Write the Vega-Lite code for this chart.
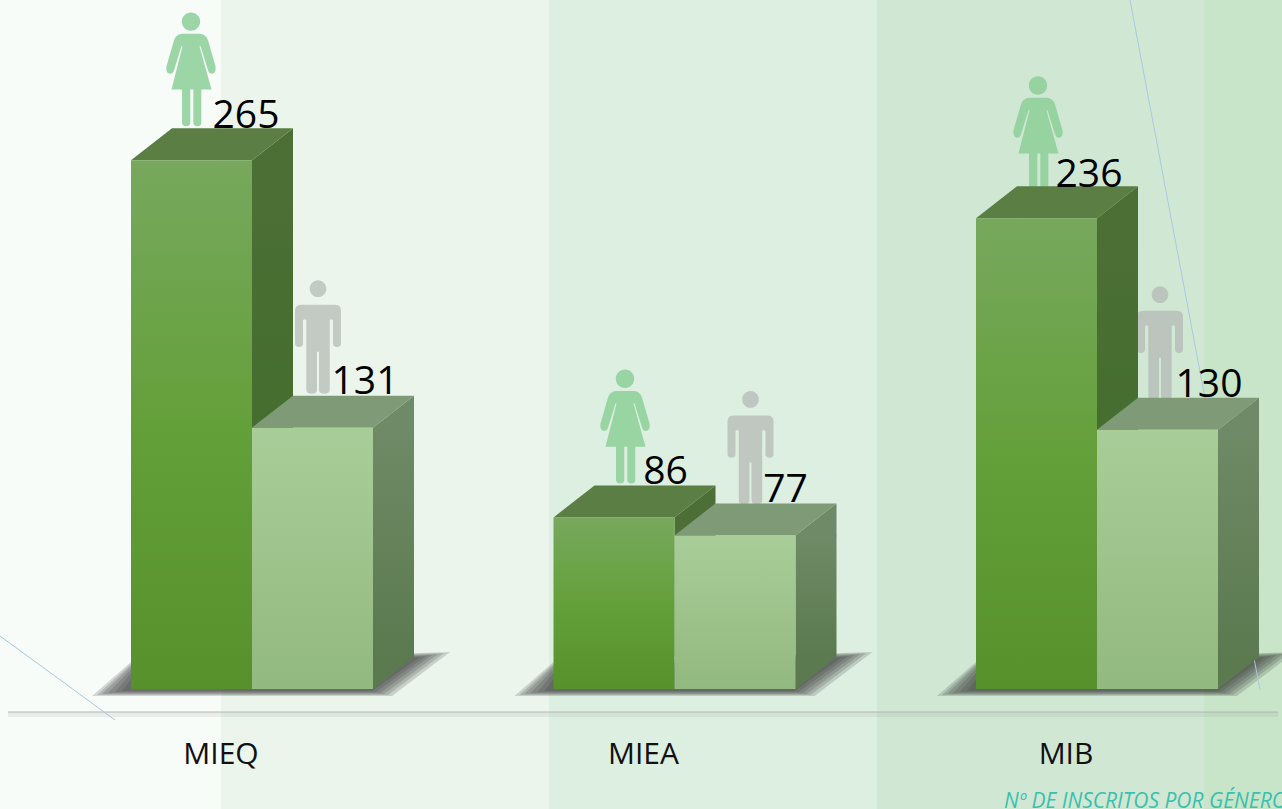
{
"$schema":"https://vega.github.io/schema/vega-lite/v6.json",
"width":1282,"height":809,"autosize":{"type":"none"},"padding":0,"background":"#ffffff",
"data":{"values":[
{"program":"MIEQ","gender":"F","value":265},
{"program":"MIEQ","gender":"M","value":131},
{"program":"MIEA","gender":"F","value":86},
{"program":"MIEA","gender":"M","value":77},
{"program":"MIB","gender":"F","value":236},
{"program":"MIB","gender":"M","value":130}
]},
"config":{
"font":"Open Sans",
"view":{"stroke":null},
"style":{
"iconF":{"shape":"M-9.2,-104.7 a9.2,9.2 0 1 0 18.4,0 a9.2,9.2 0 1 0 -18.4,0 Z M-9,-92.5 L9,-92.5 Q15,-92 17,-86 L24.5,-60 Q25.5,-53 21,-52.5 Q18,-52.5 17,-56 L9.5,-80 L8.5,-80 L20.5,-36.7 L10.3,-36.7 L10.3,-4 Q10.3,0 6.3,0 Q2.3,0 2.3,-4 L2.3,-36.7 L-0.7,-36.7 L-0.7,-4 Q-0.7,0 -4.8,0 Q-9,0 -9,-4 L-9,-36.7 L-19.5,-36.7 L-8.5,-80 L-9.5,-80 L-17,-56 Q-18,-52.5 -21,-52.5 Q-25.5,-53 -24.5,-60 L-17,-86 Q-15,-92 -9,-92.5 Z","size":4,"filled":true,"color":"#8dcf98","opacity":0.85},
"iconM":{"shape":"M-8.3,-105 a8.3,8.3 0 1 0 16.6,0 a8.3,8.3 0 1 0 -16.6,0 Z M-17,-89 L17,-89 Q23,-89 23,-83 L23,-50.5 Q23,-46.7 19,-46.7 Q15,-46.7 15,-50.5 L15,-73 Q15,-74.5 13.5,-74.5 Q11.7,-74.5 11.7,-73 L11.7,-4 Q11.7,0 6,0 Q1,0 1,-4 L1,-42 L-1,-42 L-1,-4 Q-1,0 -6,0 Q-11.7,0 -11.7,-4 L-11.7,-73 Q-11.7,-74.5 -13.5,-74.5 Q-15,-74.5 -15,-73 L-15,-50.5 Q-15,-46.7 -19,-46.7 Q-23,-46.7 -23,-50.5 L-23,-83 Q-23,-89 -17,-89 Z","size":4,"filled":true,"color":"#b5b9b5","opacity":0.75},
"val":{"fontSize":39,"font":"Open Sans","color":"#000000","baseline":"alphabetic","align":"center"},
"shade":{"size":4,"filled":true,"color":"#333333","opacity":0.19}
}
},
"encoding":{
"x":{"field":"program","type":"nominal","sort":null,"scale":{"type":"band","domain":["MIEQ","MIEA","MIB"],"range":[10.75,1278.25],"paddingInner":0,"paddingOuter":0},
"axis":{"title":null,"labelAngle":0,"ticks":false,"grid":false,"domain":false,"zindex":1,"offset":-97,"labelFontSize":30,"labelColor":"#111111","labelFont":"Open Sans","labelPadding":51,"labelBaseline":"alphabetic","labelOffset":-1}},
"y":{"field":"value","type":"quantitative","scale":{"domain":[-60.15,345.36],"nice":false,"zero":false},"axis":null}
},
"layer":[
{"mark":{"type":"point","filled":true,"size":4,"shape":"M-644.5,-404.5 L637.5,-404.5 L637.5,404.5 L-644.5,404.5 Z","opacity":1,"fill":{"gradient":"linear","x1":0,"y1":0,"x2":1,"y2":0,"stops":[{"offset":0,"color":"#f7fcf9"},{"offset":0.1724,"color":"#f7fcf9"},{"offset":0.1724,"color":"#ebf5ec"},{"offset":0.4282,"color":"#ebf5ec"},{"offset":0.4282,"color":"#ddefe0"},{"offset":0.6841,"color":"#ddefe0"},{"offset":0.6841,"color":"#d0e8d3"},{"offset":0.9392,"color":"#d0e8d3"},{"offset":0.9392,"color":"#c8e5c9"},{"offset":1,"color":"#c8e5c9"}]}},"transform":[{"filter":"datum.program=='MIEA'&&datum.gender=='F'"}],"encoding":{"y":{"datum":142.6}}},
{"mark":{"type":"point","filled":true,"size":4,"opacity":1,"fill":"#808480","fillOpacity":0.12,"shape":"M-636.5,0 L633.5,0 L633.5,5 L-636.5,5 Z"},"transform":[{"filter":"datum.program=='MIEA'&&datum.gender=='F'"}],"encoding":{"y":{"datum":-11.53}}},
{"mark":{"type":"point","filled":false,"size":4,"opacity":1,"stroke":"#b4b6b4","strokeWidth":1,"shape":"M-636.5,0 L633.5,0"},"transform":[{"filter":"datum.program=='MIEA'&&datum.gender=='F'"}],"encoding":{"y":{"datum":-11.53}}},
{"transform":[{"filter":"datum.gender=='F'"}],"encoding":{"y":{"datum":0}},"layer":[
{"mark":{"type":"point","style":"shade","color":"#333333","xOffset":30,"shape":"M-160,7 L-121,-27 L198,-37 L140,7 Z"}},
{"mark":{"type":"point","style":"shade","color":"#333333","xOffset":30,"shape":"M-155,6 L-121,-25 L192,-36 L136,6 Z"}},
{"mark":{"type":"point","style":"shade","color":"#333333","xOffset":30,"shape":"M-150,5 L-121,-23 L186,-35 L132,5 Z"}},
{"mark":{"type":"point","style":"shade","color":"#333333","xOffset":30,"shape":"M-144,4 L-121,-20 L180,-34 L128,4 Z"}},
{"mark":{"type":"point","style":"shade","color":"#333333","xOffset":30,"shape":"M-137,3 L-121,-16 L174,-33 L124,3 Z"}},
{"mark":{"type":"point","style":"shade","color":"#333333","xOffset":30,"shape":"M-130,2 L-121,-10 L168,-32 L120,2 Z"}}
]},
{"mark":{"type":"point","filled":false,"size":4,"opacity":1,"stroke":"#a9c8e0","strokeWidth":1,"shape":"M63,-689 L193,1"},"transform":[{"filter":"datum.program=='MIB'&&datum.gender=='F'"}],"encoding":{"y":{"datum":0}}},
{"mark":{"type":"point","style":"iconF","xOffset":-31,"yOffset":-34},"transform":[{"filter":"datum.program=='MIEQ'&&datum.gender=='F'"}]},
{"mark":{"type":"point","style":"iconF","xOffset":-19.5,"yOffset":-34},"transform":[{"filter":"datum.program=='MIEA'&&datum.gender=='F'"}]},
{"mark":{"type":"point","style":"iconF","xOffset":-29,"yOffset":-28},"transform":[{"filter":"datum.program=='MIB'&&datum.gender=='F'"}]},
{"mark":{"type":"point","style":"iconM","xOffset":96,"yOffset":-34},"transform":[{"filter":"datum.program=='MIEQ'&&datum.gender=='M'"}]},
{"mark":{"type":"point","style":"iconM","xOffset":106,"yOffset":-31},"transform":[{"filter":"datum.program=='MIEA'&&datum.gender=='M'"}]},
{"mark":{"type":"point","style":"iconM","xOffset":93,"yOffset":-30},"transform":[{"filter":"datum.program=='MIB'&&datum.gender=='M'"}]},
{"transform":[{"filter":"datum.gender=='F'"}],"layer":[
{"mark":{"type":"bar","width":41,"xOffset":50.5,"color":{"gradient":"linear","x1":0,"y1":0,"x2":0,"y2":1,"stops":[{"offset":0,"color":"#4c6f36"},{"offset":1,"color":"#3f6d28"}]}},"encoding":{"y2":{"datum":16}}},
{"mark":{"type":"point","filled":true,"size":4,"opacity":1,"xOffset":30,"color":"#4c6f36","shape":"M0,0 L41,-32 L41,1 L0,1 Z"}},
{"mark":{"type":"point","filled":true,"size":4,"opacity":1,"xOffset":30,"color":"#5a7e44","shape":"M-121,0 L0,0 L41,-32 L-80,-32 Z"}},
{"mark":{"type":"bar","width":121,"xOffset":-30.5,"color":{"gradient":"linear","x1":0,"y1":0,"x2":0,"y2":1,"stops":[{"offset":0,"color":"#77a85d"},{"offset":0.5,"color":"#64a03a"},{"offset":1,"color":"#56912b"}]}},"encoding":{"y2":{"datum":0}}}
]},
{"transform":[{"filter":"datum.gender=='M'"}],"layer":[
{"mark":{"type":"bar","width":41,"xOffset":171.5,"color":{"gradient":"linear","x1":0,"y1":0,"x2":0,"y2":1,"stops":[{"offset":0,"color":"#6f8a66"},{"offset":1,"color":"#5b7a50"}]}},"encoding":{"y2":{"datum":16}}},
{"mark":{"type":"point","filled":true,"size":4,"opacity":1,"xOffset":30,"color":"#6f8a66","shape":"M121,0 L162,-32 L162,1 L121,1 Z"}},
{"mark":{"type":"point","filled":true,"size":4,"opacity":1,"xOffset":30,"color":"#7f9a76","shape":"M0,0 L121,0 L162,-32 L41,-32 Z"}},
{"mark":{"type":"point","filled":true,"size":4,"opacity":1,"xOffset":30,"color":"#5b7a50","shape":"M121,0 L162,-32 L162,-33 L121,-33 Z"},"encoding":{"y":{"datum":0}}},
{"mark":{"type":"bar","width":121,"xOffset":90.5,"color":{"gradient":"linear","x1":0,"y1":0,"x2":0,"y2":1,"stops":[{"offset":0,"color":"#a9cd98"},{"offset":1,"color":"#92b97f"}]}},"encoding":{"y2":{"datum":0}}}
]},
{"mark":{"type":"text","style":"val","xOffset":24,"yOffset":-32},"transform":[{"filter":"datum.program=='MIEQ'&&datum.gender=='F'"}],"encoding":{"text":{"field":"value","type":"quantitative"}}},
{"mark":{"type":"text","style":"val","xOffset":143,"yOffset":-34},"transform":[{"filter":"datum.program=='MIEQ'&&datum.gender=='M'"}],"encoding":{"text":{"field":"value","type":"quantitative"}}},
{"mark":{"type":"text","style":"val","xOffset":21,"yOffset":-33},"transform":[{"filter":"datum.program=='MIEA'&&datum.gender=='F'"}],"encoding":{"text":{"field":"value","type":"quantitative"}}},
{"mark":{"type":"text","style":"val","xOffset":141,"yOffset":-33},"transform":[{"filter":"datum.program=='MIEA'&&datum.gender=='M'"}],"encoding":{"text":{"field":"value","type":"quantitative"}}},
{"mark":{"type":"text","style":"val","xOffset":22,"yOffset":-31},"transform":[{"filter":"datum.program=='MIB'&&datum.gender=='F'"}],"encoding":{"text":{"field":"value","type":"quantitative"}}},
{"mark":{"type":"text","style":"val","xOffset":142,"yOffset":-33},"transform":[{"filter":"datum.program=='MIB'&&datum.gender=='M'"}],"encoding":{"text":{"field":"value","type":"quantitative"}}},
{"mark":{"type":"point","filled":false,"size":4,"opacity":1,"stroke":"#a9c8e0","strokeWidth":1,"shape":"M-222,-53 L-107,31"},"transform":[{"filter":"datum.program=='MIEQ'&&datum.gender=='F'"}],"encoding":{"y":{"datum":0}}},
{"mark":{"type":"text","fontSize":21,"font":"Open Sans","fontStyle":"italic","color":"#3bbfae","align":"left","baseline":"alphabetic","xOffset":-63},"transform":[{"filter":"datum.program=='MIB'&&datum.gender=='F'"}],"encoding":{"y":{"datum":-59.65},"text":{"value":"Nº DE INSCRITOS POR GÉNERO"}}}
]
}
